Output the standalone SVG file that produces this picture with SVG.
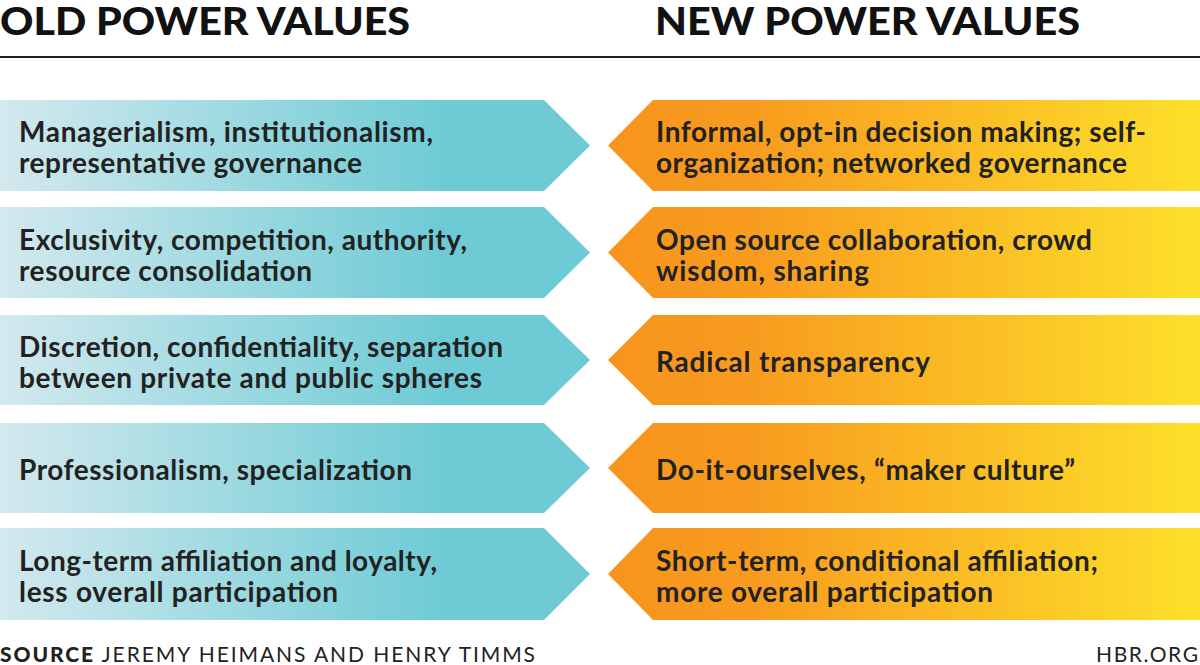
<svg xmlns="http://www.w3.org/2000/svg" width="1200" height="665" viewBox="0 0 1200 665">
<defs>
<linearGradient id="gl" x1="0" x2="1" y1="0" y2="0"><stop offset="0" stop-color="#d3e9ee"/><stop offset="0.75" stop-color="#6ecbd5"/><stop offset="1" stop-color="#6ecbd5"/></linearGradient>
<linearGradient id="gr" x1="0" x2="1" y1="0" y2="0"><stop offset="0" stop-color="#f7941d"/><stop offset="0.25" stop-color="#f89c1f"/><stop offset="1" stop-color="#fde02a"/></linearGradient>
<style>
text{font-family:Lato,"Open Sans",sans-serif;fill:#222}
.h{font-size:37px;font-weight:900;fill:#111}
.t{font-size:28px;font-weight:700}
.s{font-size:21px;fill:#222}
</style>
</defs>
<rect width="1200" height="665" fill="#fff"/>
<text class="h" x="0" y="35" textLength="410" lengthAdjust="spacingAndGlyphs">OLD POWER VALUES</text>
<text class="h" x="655" y="35" textLength="425" lengthAdjust="spacingAndGlyphs">NEW POWER VALUES</text>
<line x1="0" y1="57" x2="1200" y2="57" stroke="#222" stroke-width="2"/>
<g id="connectors"/>
<g id="l1"><polygon points="0,100 544,100 590,145.5 544,191 0,191" fill="url(#gl)"/><text class="t" x="19" y="142" textLength="414">Managerialism, institutionalism,</text><text class="t" x="19" y="173" textLength="343">representative governance</text></g>
<g id="l2"><polygon points="0,207 544,207 590,252.5 544,298 0,298" fill="url(#gl)"/><text class="t" x="19" y="250" textLength="448">Exclusivity, competition, authority,</text><text class="t" x="19" y="281" textLength="293">resource consolidation</text></g>
<g id="l3"><polygon points="0,315 544,315 590,360 544,405 0,405" fill="url(#gl)"/><text class="t" x="19" y="357" textLength="484">Discretion, confidentiality, separation</text><text class="t" x="19" y="388" textLength="463">between private and public spheres</text></g>
<g id="l4"><polygon points="0,423 544,423 590,468 544,513 0,513" fill="url(#gl)"/><text class="t" x="19" y="480" textLength="393">Professionalism, specialization</text></g>
<g id="l5"><polygon points="0,528 544,528 590,574 544,620 0,620" fill="url(#gl)"/><text class="t" x="19" y="571" textLength="418">Long-term affiliation and loyalty,</text><text class="t" x="19" y="602" textLength="319">less overall participation</text></g>
<g id="r1"><polygon points="1200,100 653,100 608,145.5 653,191 1200,191" fill="url(#gr)"/><text class="t" x="656" y="142" textLength="490">Informal, opt-in decision making; self-</text><text class="t" x="656" y="173" textLength="471">organization; networked governance</text></g>
<g id="r2"><polygon points="1200,207 653,207 608,252.5 653,298 1200,298" fill="url(#gr)"/><text class="t" x="656" y="250" textLength="436">Open source collaboration, crowd</text><text class="t" x="656" y="281" textLength="213">wisdom, sharing</text></g>
<g id="r3"><polygon points="1200,315 653,315 608,360 653,405 1200,405" fill="url(#gr)"/><text class="t" x="656" y="372" textLength="274">Radical transparency</text></g>
<g id="r4"><polygon points="1200,423 653,423 608,468 653,513 1200,513" fill="url(#gr)"/><text class="t" x="656" y="480" textLength="419">Do-it-ourselves, “maker culture”</text></g>
<g id="r5"><polygon points="1200,528 653,528 608,574 653,620 1200,620" fill="url(#gr)"/><text class="t" x="656" y="571" textLength="442">Short-term, conditional affiliation;</text><text class="t" x="656" y="602" textLength="337">more overall participation</text></g>
<text class="s" x="0" y="662" textLength="535"><tspan font-weight="900">SOURCE</tspan>  JEREMY HEIMANS AND HENRY TIMMS</text>
<text class="s" x="1096" y="662" textLength="102">HBR.ORG</text>
</svg>
